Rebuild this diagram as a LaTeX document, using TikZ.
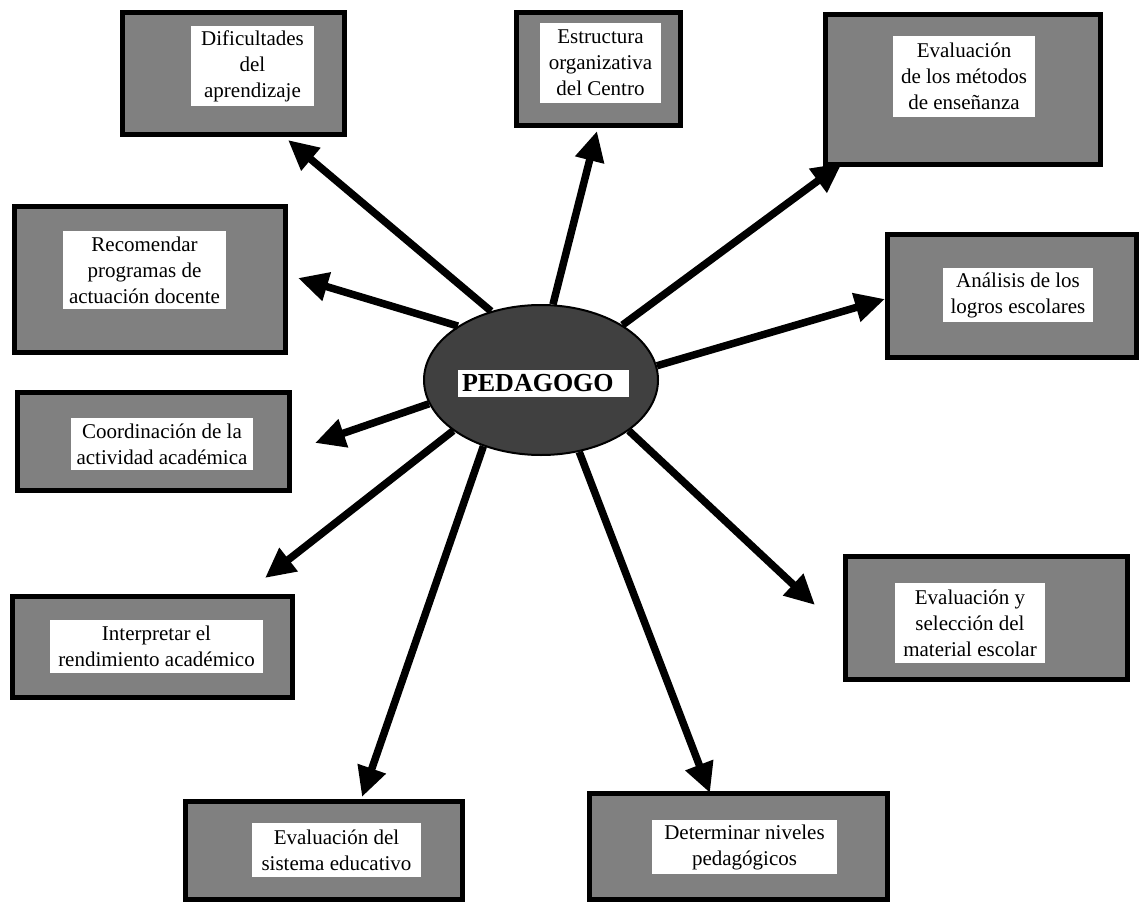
\documentclass[tikz,border=0pt]{standalone}
\usepackage{fontspec}
\setmainfont{Liberation Serif}
\usetikzlibrary{arrows.meta,shapes.geometric}
\tikzset{
  gbox/.style={draw=black, line width=5pt, fill=boxgray, inner sep=0pt},
  tbox/.style={fill=white, inner sep=0pt, align=center,
    font=\fontsize{21}{26}\selectfont},
  link/.style={line width=7.5pt, -{Triangle[length=30pt,width=28pt]}},
}
\definecolor{boxgray}{HTML}{808080}
\definecolor{hubgray}{HTML}{404040}
\begin{document}
\begin{tikzpicture}[x=1pt,y=-1pt]
\useasboundingbox (0,0) rectangle (1140,904);

% outer boxes
\node[gbox, minimum width=222pt, minimum height=122pt] (dif) at (233.5,73.5) {};
\node[gbox, minimum width=164pt, minimum height=113pt] (est) at (598.5,69) {};
\node[gbox, minimum width=275pt, minimum height=150pt] (met) at (963,89.5) {};
\node[gbox, minimum width=271pt, minimum height=146pt] (rec) at (150,279.5) {};
\node[gbox, minimum width=249pt, minimum height=123pt] (ana) at (1012,296) {};
\node[gbox, minimum width=272pt, minimum height=98pt] (coo) at (153.5,441.5) {};
\node[gbox, minimum width=280pt, minimum height=101pt] (int) at (152.5,647) {};
\node[gbox, minimum width=282pt, minimum height=123pt] (mat) at (986.5,618) {};
\node[gbox, minimum width=277pt, minimum height=98pt] (sis) at (324,850.5) {};
\node[gbox, minimum width=298pt, minimum height=106pt] (niv) at (738.5,846.5) {};

% labels on white panels
\node[tbox, minimum width=123pt, minimum height=80pt] (dif-t) at (252.5,66) {Dificultades\\del\\aprendizaje};
\node[tbox, minimum width=121pt, minimum height=80pt] (est-t) at (600.5,63) {Estructura\\organizativa\\del Centro};
\node[tbox, minimum width=142pt, minimum height=81pt] (met-t) at (964,76.5) {Evaluación\\de los métodos\\de enseñanza};
\node[tbox, minimum width=163pt, minimum height=78pt] (rec-t) at (144.5,270) {Recomendar\\programas de\\actuación docente};
\node[tbox, minimum width=150pt, minimum height=54pt] (ana-t) at (1018,295) {Análisis de los\\logros escolares};
\node[tbox, minimum width=182pt, minimum height=52pt] (coo-t) at (162,444) {Coordinación de la\\actividad académica};
\node[tbox, minimum width=213pt, minimum height=53pt] (int-t) at (156.5,646.5) {Interpretar el\\rendimiento académico};
\node[tbox, minimum width=150pt, minimum height=80pt] (mat-t) at (970,623) {Evaluación y\\selección del\\material escolar};
\node[tbox, minimum width=169pt, minimum height=54pt] (sis-t) at (336.5,850) {Evaluación del\\sistema educativo};
\node[tbox, minimum width=185pt, minimum height=54pt] (niv-t) at (744.5,847) {Determinar niveles\\pedagógicos};

% central hub
\node[ellipse, draw=black, line width=2pt, fill=hubgray, minimum width=234pt,
  minimum height=150pt, inner sep=0pt] (ped) at (541,380) {};
\node[fill=white, inner sep=0pt, minimum width=171pt, minimum height=27pt,
  text width=163pt, align=left, font=\fontsize{26}{26}\selectfont\bfseries]
  (ped-t) at (543.5,383.5) {PEDAGOGO};

% arrow tips
\coordinate (t-dif) at (288,140);
\coordinate (t-est) at (597,131);
\coordinate (t-met) at (842,163);
\coordinate (t-rec) at (298,278);
\coordinate (t-ana) at (885,299);
\coordinate (t-coo) at (315,443);
\coordinate (t-int) at (265,578);
\coordinate (t-mat) at (815,605);
\coordinate (t-sis) at (362,797);
\coordinate (t-niv) at (710,793);

% connectors
\draw[link] (ped.126.9) -- (t-dif);
\draw[link] (ped.81.1) -- (t-est);
\draw[link] (ped.34.2) -- (t-met);
\draw[link] (ped.147.4) -- (t-rec);
\draw[link] (ped.7.5) -- (t-ana);
\draw[link] (ped.192.7) -- (t-coo);
\draw[link] (ped.210.2) -- (t-int);
\draw[link] (ped.330.9) -- (t-mat);
\draw[link] (ped.229.4) -- (t-sis);
\draw[link] (ped.298.2) -- (t-niv);
\end{tikzpicture}
\end{document}
